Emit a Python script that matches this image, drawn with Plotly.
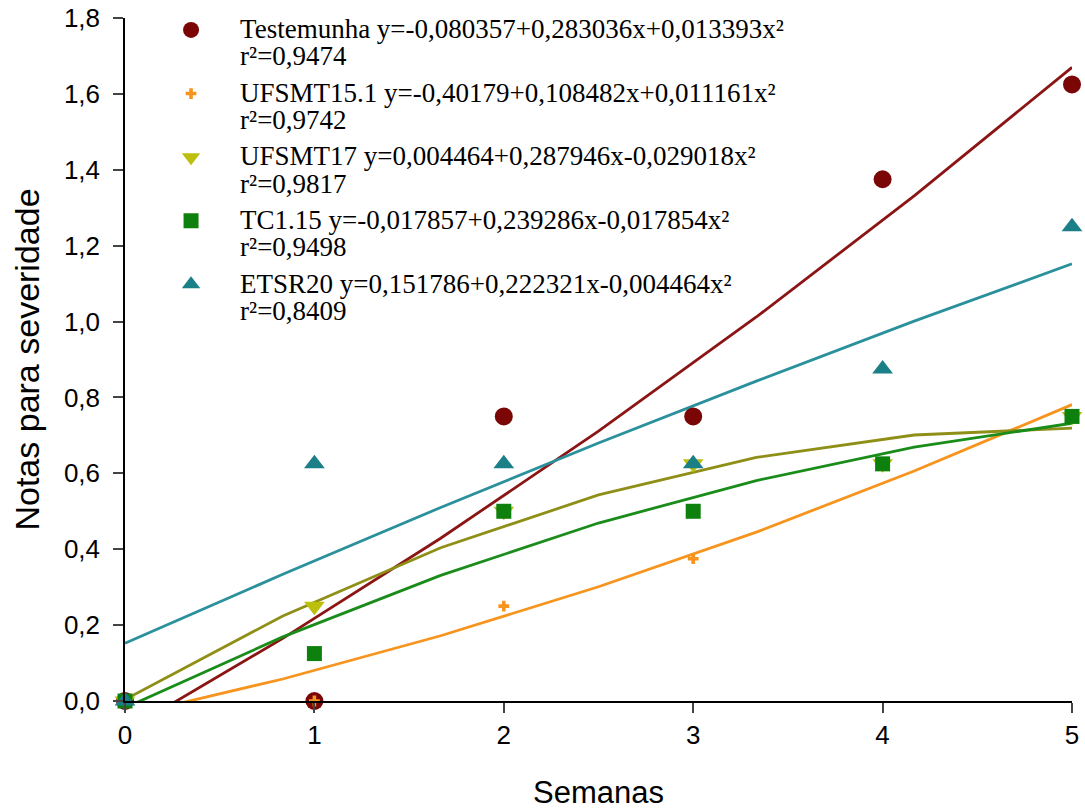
import plotly.graph_objects as go

weeks = [0, 1, 2, 3, 4, 5]
fit_x = [0, 0.8333, 1.6667, 2.5, 3.3333, 4.1667, 5]

names = [
    "Testemunha y=-0,080357+0,283036x+0,013393x²<br>r²=0,9474",
    "UFSMT15.1 y=-0,40179+0,108482x+0,011161x²<br>r²=0,9742",
    "UFSMT17 y=0,004464+0,287946x-0,029018x²<br>r²=0,9817",
    "TC1.15 y=-0,017857+0,239286x-0,017854x²<br>r²=0,9498",
    "ETSR20 y=0,151786+0,222321x-0,004464x²<br>r²=0,8409",
]

testemunha = [0, 0, 0.75, 0.75, 1.375, 1.625]
ufsmt151 = [0, 0, 0.25, 0.375, 0.625, 0.75]
ufsmt17 = [0, 0.25, 0.5, 0.625, 0.625, 0.75]
tc115 = [0, 0.125, 0.5, 0.5, 0.625, 0.75]
etsr20 = [0, 0.625, 0.625, 0.625, 0.875, 1.25]

fit_testemunha = [-0.080, 0.165, 0.429, 0.711, 1.012, 1.331, 1.670]
fit_ufsmt151 = [-0.040, 0.058, 0.172, 0.301, 0.445, 0.606, 0.781]
fit_ufsmt17 = [0.004, 0.224, 0.404, 0.543, 0.642, 0.701, 0.719]
fit_tc115 = [-0.018, 0.169, 0.331, 0.469, 0.581, 0.669, 0.732]
fit_etsr20 = [0.152, 0.334, 0.510, 0.680, 0.843, 1.001, 1.152]

series = [
    (testemunha, fit_testemunha, "#7a0606", "#8b1515", "circle", 18),
    (ufsmt151, fit_ufsmt151, "#f7941d", "#f7941d", "cross", 9),
    (ufsmt17, fit_ufsmt17, "#bcbf0c", "#8f8f17", "triangle-down", 18),
    (tc115, fit_tc115, "#0d800d", "#1a8c1a", "square", 15),
    (etsr20, fit_etsr20, "#1b7f88", "#2a919c", "triangle-up", 18),
]

SPAN = '<span style="font-size:27px">'

fig = go.Figure()
for vals, fit, mc, lc, sym, sz in series:
    fig.add_trace(go.Scatter(x=fit_x, y=fit, mode="lines",
                             line=dict(color=lc, width=2.8),
                             showlegend=False, hoverinfo="skip"))
for i, ((vals, fit, mc, lc, sym, sz), nm) in enumerate(zip(series, names)):
    fig.add_trace(go.Scatter(x=weeks, y=vals, mode="markers",
                             name=SPAN + nm.replace("<br>", "</span><br>" + SPAN) + "</span>",
                             legendgroup="g%d" % i,
                             marker=dict(color=mc, symbol=sym, size=sz, line=dict(width=0)),
                             cliponaxis=False))

fig.update_layout(
    width=1085, height=810,
    paper_bgcolor="white", plot_bgcolor="white",
    separators=",.",
    margin=dict(l=125, r=13, t=18, b=109, autoexpand=False),
    font=dict(family="Liberation Sans, Arial", color="black"),
    legend=dict(x=0.018, y=1.012, xanchor="left", yanchor="top",
                font=dict(family="Liberation Serif, Times New Roman", size=21, color="black"),
                valign="top", tracegroupgap=6, itemwidth=88,
                bgcolor="rgba(0,0,0,0)"),
    xaxis=dict(range=[0, 5], tickvals=weeks, ticks="outside", ticklen=10, tickwidth=1.5,
               showline=True, linecolor="black", linewidth=1.5, showgrid=False, zeroline=False,
               tickfont=dict(size=26), automargin=False,
               title=dict(text="Semanas", font=dict(size=31), standoff=33)),
    yaxis=dict(range=[0, 1.8], dtick=0.2, tickformat=".1f", ticks="outside", ticklen=10, tickwidth=1.5,
               ticklabelstandoff=8,
               showline=True, linecolor="black", linewidth=1.5, showgrid=False, zeroline=False,
               tickfont=dict(size=26), automargin=False,
               title=dict(text="Notas para severidade", font=dict(size=34), standoff=14)),
)

fig.write_html("out.html", config={"displayModeBar": False},
               post_script="document.body.style.margin='0px';")
